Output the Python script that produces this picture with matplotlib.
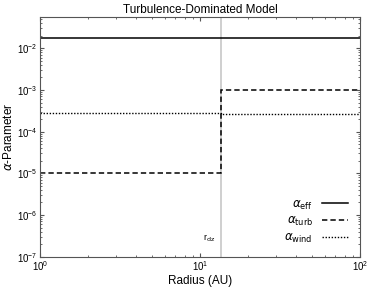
import matplotlib
matplotlib.use("Agg")
import matplotlib.pyplot as plt
import numpy as np

plt.rcParams.update({
    "font.family": "sans-serif",
    "font.sans-serif": ["Liberation Sans", "DejaVu Sans"],
    "mathtext.fontset": "dejavusans",
})

# radial extent and dead-zone edge (AU)
r_min, r_dz, r_max = 1.0, 13.5, 100.0

# alpha values inside / outside the dead zone
alpha_eff = [0.0172, 0.0172]
alpha_turb = [1.0e-5, 1.0e-3]
alpha_wind = [2.8e-4, 2.6e-4]

r_edges = [r_min, r_dz, r_max]

fig = plt.figure(figsize=(3.74, 2.91), dpi=100)
ax = fig.add_axes([0.107, 0.118, 0.856, 0.822])

ax.axvline(r_dz, color="#cccccc", lw=1.3, zorder=1)

ax.stairs(alpha_eff, r_edges, color="k", lw=1.1, baseline=None, label=r"$\alpha_{\rm eff}$")
ax.stairs(alpha_turb, r_edges, color="k", lw=1.1, ls=(0, (3.5, 2)), baseline=None,
          label=r"$\alpha_{\rm turb}$")
ax.stairs(alpha_wind, r_edges, color="k", lw=1.0, ls=(0, (1, 1.2)), baseline=None,
          label=r"$\alpha_{\rm wind}$")

ax.set_xscale("log")
ax.set_yscale("log")
ax.set_xlim(r_min, r_max)
ax.set_ylim(1e-7, 0.055)

ax.text(r_dz * 0.92, 2.0e-7, r"r$_{\rm dz}$", ha="right", va="bottom", fontsize=6.5)

ax.set_title("Turbulence-Dominated Model", fontsize=8.5, pad=3)
ax.set_xlabel("Radius (AU)", fontsize=8.5, labelpad=1)
ax.set_ylabel(r"$\alpha$-Parameter", fontsize=8.5, labelpad=1)

for s in ax.spines.values():
    s.set_color("#555555")
    s.set_linewidth(0.8)
ax.tick_params(which="both", direction="in", top=True, right=True, labelsize=7,
               color="#555555", pad=2)
ax.tick_params(which="major", length=3)
ax.tick_params(which="minor", length=1.7)

leg = ax.legend(loc="lower right", frameon=False, markerfirst=False, fontsize=8.5,
                handlelength=2.2, labelspacing=0.3, borderaxespad=0.6)

fig.savefig("out.png", dpi=100)
